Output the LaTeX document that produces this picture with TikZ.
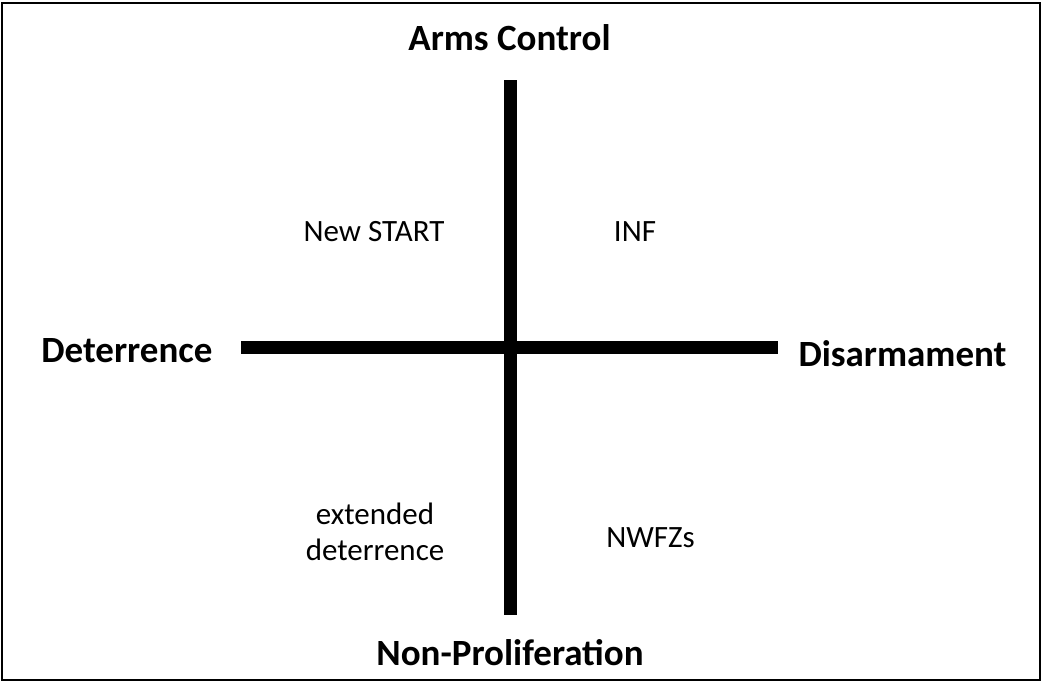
\documentclass[tikz,border=0pt]{standalone}
\usepackage{fontspec}
\setmainfont{Carlito}
\begin{document}
\begin{tikzpicture}[x=1pt,y=-1pt,
  axis/.style={line width=12.5pt},
  pole/.style={font=\fontsize{37}{42}\selectfont\bfseries, inner sep=0pt, anchor=base},
  item/.style={font=\fontsize{31}{35.5}\selectfont, inner sep=0pt, anchor=base, align=center}]
\useasboundingbox (0,0) rectangle (1044,686);
\draw[line width=2pt] (2,3) rectangle (1040,679.5);
\coordinate (vt) at (510.5,80);
\coordinate (vb) at (510.5,615);
\coordinate (hl) at (241,347.5);
\coordinate (hr) at (778,347.5);
\draw[axis] (vt) -- (vb);
\draw[axis] (hl) -- (hr);
\node[pole] (ac) at (509.5,50.5) {Arms Control};
\node[pole] (np) at (510,665.5) {Non-Proliferation};
\node[pole] (de) at (127,362) {Deterrence};
\node[pole] (di) at (902.5,366.5) {Disarmament};
\node[item] (ns) at (374,241) {New START};
\node[item] (inf) at (635,241) {INF};
\node[item] (ed1) at (375,524.5) {extended};
\node[item] (ed2) at (375,560) {deterrence};
\node[item] (nw) at (650.5,547) {NWFZs};
\end{tikzpicture}
\end{document}
